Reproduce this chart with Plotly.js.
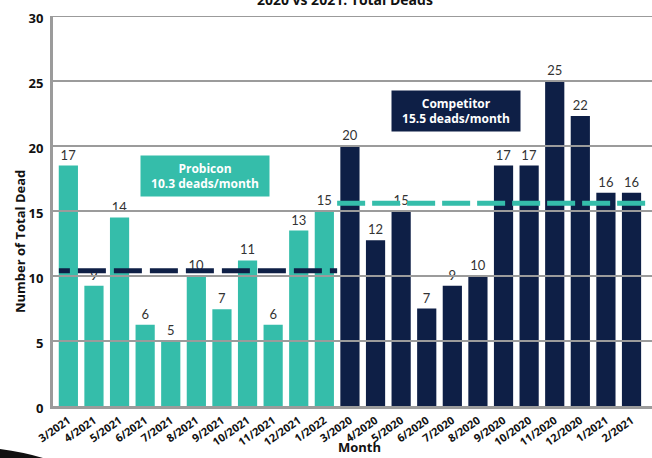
<!DOCTYPE html>
<html>
<head>
<meta charset="utf-8">
<script src="https://cdn.plot.ly/plotly-3.0.1.min.js"></script>
<style>html,body{margin:0;padding:0;background:#fff;}#chart{width:652px;height:458px;}</style>
</head>
<body>
<div id="chart"></div>
<script>
// Data
var probiconMonths = ["3/2021","4/2021","5/2021","6/2021","7/2021","8/2021","9/2021","10/2021","11/2021","12/2021","1/2022"];
var probiconValues = [18.5, 9.25, 14.5, 6.25, 5, 10, 7.45, 11.2, 6.25, 13.5, 15];
var probiconLabels = [17, 9, 14, 6, 5, 10, 7, 11, 6, 13, 15];
var competitorMonths = ["3/2020","4/2020","5/2020","6/2020","7/2020","8/2020","9/2020","10/2020","11/2020","12/2020","1/2021","2/2021"];
var competitorValues = [20, 12.75, 15, 7.5, 9.25, 10, 18.5, 18.5, 25, 22.3, 16.4, 16.4];
var competitorLabels = [20, 12, 15, 7, 9, 10, 17, 17, 25, 22, 16, 16];
var averageLevels = [10.4, 15.6];
var averageTexts = ["Probicon<br>10.3 deads/month", "Competitor<br>15.5 deads/month"];
var gridValues = [5, 10, 15, 20, 25, 30];

var teal = "#35BDAA";
var navy = "#0E1F46";
var grey = "#9B9B9B";
var fontFam = "Lato, 'Open Sans', sans-serif";
var boldFam = "'Open Sans', Lato, sans-serif";

var allMonths = probiconMonths.concat(competitorMonths);

var traces = [
  {
    type: "bar", x: probiconMonths, y: probiconValues,
    text: probiconLabels.map(String), textposition: "outside",
    marker: {color: teal}, cliponaxis: false,
    textfont: {family: fontFam, size: 13, color: "#333"},
    hoverinfo: "x+y", showlegend: false
  },
  {
    type: "bar", x: competitorMonths, y: competitorValues,
    text: competitorLabels.map(String), textposition: "outside",
    marker: {color: navy}, cliponaxis: false,
    textfont: {family: fontFam, size: 13, color: "#333"},
    hoverinfo: "x+y", showlegend: false
  }
];

var shapes = [];
gridValues.forEach(function(v){
  shapes.push({type: "line", xref: "paper", yref: "y", x0: 0, x1: 1, y0: v, y1: v,
    line: {color: grey, width: 2}, layer: "above"});
});
var split = probiconMonths.length - 0.5;
shapes.push({type: "line", xref: "x", yref: "y", x0: -0.37, x1: split, y0: averageLevels[0], y1: averageLevels[0],
  line: {color: navy, width: 5, dash: "11px,8px,28px,8px,28px,8px,28px,8px,28px,8px,28px,8px,28px,8px,28px,8px,28px,8px"}, layer: "above"});
shapes.push({type: "line", xref: "x", yref: "y", x0: split, x1: allMonths.length - 0.2, y0: averageLevels[1], y1: averageLevels[1],
  line: {color: teal, width: 5, dash: "28px,7px"}, layer: "above"});
// decorative swoosh bottom-left
shapes.push({type: "path", xref: "paper", yref: "paper",
  path: "M -0.09,-0.110 Q -0.05,-0.118 -0.0167,-0.1333 L -0.09,-0.1333 Z",
  fillcolor: "#111", line: {width: 0}, layer: "above"});

var annotations = [
  {xref: "paper", yref: "paper", x: 0.2538, y: 0.5897, xanchor: "center", yanchor: "middle",
   text: "<b>" + averageTexts[0] + "</b>",
   showarrow: false, bgcolor: teal, width: 124, height: 36, borderpad: 2,
   font: {family: boldFam, size: 12, color: "#fff"}, align: "center"},
  {xref: "paper", yref: "paper", x: 0.6728, y: 0.7564, xanchor: "center", yanchor: "middle",
   text: "<b>" + averageTexts[1] + "</b>",
   showarrow: false, bgcolor: navy, width: 124, height: 36, borderpad: 2,
   font: {family: boldFam, size: 12, color: "#fff"}, align: "center"},
  {xref: "paper", yref: "paper", x: -0.0551, y: 0.423, xanchor: "center", yanchor: "middle",
   text: "<b>Number of Total Dead</b>",
   textangle: -90, showarrow: false, font: {family: boldFam, size: 13, color: "#111"}},
  {xref: "paper", yref: "paper", x: 0.511, y: -0.106, xanchor: "center", yanchor: "middle",
   text: "<b>Month</b>",
   showarrow: false, font: {family: boldFam, size: 13, color: "#111"}}
];

var layout = {
  width: 652, height: 458,
  margin: {l: 53, r: 0, t: 16, b: 52},
  paper_bgcolor: "#fff", plot_bgcolor: "#fff",
  bargap: 0.25,
  title: {text: "<b>2020 vs 2021: Total Deads</b>", x: 0.529, xanchor: "center", y: 0.999, yanchor: "middle",
    font: {family: boldFam, size: 14, color: "#111"}},
  xaxis: {
    type: "category", categoryorder: "array", categoryarray: allMonths,
    range: [-0.6, 22.8], tickangle: -35, showgrid: false,
    tickfont: {family: boldFam, size: 11, color: "#111", weight: "bold"},
    showline: true, linecolor: grey, linewidth: 3, ticks: "", zeroline: false, fixedrange: true,
    ticklabelstandoff: 1
  },
  yaxis: {
    range: [0, 30], tickvals: [0].concat(gridValues), showgrid: false,
    tickfont: {family: boldFam, size: 13, color: "#111", weight: "bold"},
    showline: true, linecolor: grey, linewidth: 3, ticks: "", zeroline: false, fixedrange: true,
    ticklabelstandoff: 4, ticklabelshift: 2
  },
  shapes: shapes,
  annotations: annotations,
  showlegend: false
};

Plotly.newPlot("chart", traces, layout, {displayModeBar: false, staticPlot: true});
</script>
</body>
</html>
